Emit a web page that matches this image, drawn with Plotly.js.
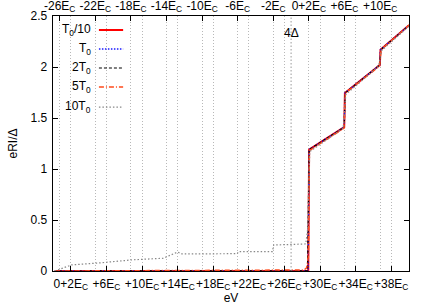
<!DOCTYPE html>
<html>
<head>
<meta charset="utf-8">
<script src="https://cdn.plot.ly/plotly-3.0.1.min.js"></script>
<style>html,body{margin:0;padding:0;background:#fff;}#chart{width:436px;height:305px;}</style>
</head>
<body>
<div id="chart"></div>
<script>
// ---- data (x in units of E_C on the bottom axis) ----
const seriesNames = ['T<sub>0</sub>/10', 'T<sub>0</sub>', '2T<sub>0</sub>', '5T<sub>0</sub>', '10T<sub>0</sub>'];

const xT10 = [0.2, 28.68, 28.78, 32.72, 32.8, 36.72, 36.8, 40];
const yT10 = [0, 0, 1.19, 1.41, 1.745, 2.02, 2.17, 2.41];

const xT1 = [0.2, 28.66, 28.78, 32.72, 32.8, 36.72, 36.8, 40];
const yT1 = [0, 0, 1.19, 1.41, 1.745, 2.02, 2.17, 2.41];

const xT2 = [0.2, 28.6, 28.78, 32.72, 32.82, 36.72, 36.82, 40];
const yT2 = [0, 0.002, 1.19, 1.41, 1.745, 2.02, 2.17, 2.41];

const xT5 = [0.2, 27.5, 28.2, 28.5, 28.7, 28.8, 32.7, 32.85, 36.7, 36.85, 40];
const yT5 = [0, 0.003, 0.01, 0.03, 0.15, 1.18, 1.40, 1.745, 2.01, 2.17, 2.41];

const xT10x = [0.2, 2.1, 5.3, 9.0, 12.4, 14.0, 14.5, 18.0, 20.7, 20.85, 24.65, 24.8, 28.4, 28.6, 28.85, 32.6, 32.9, 36.6, 36.9, 40];
const yT10x = [0.0, 0.06, 0.08, 0.11, 0.125, 0.186, 0.167, 0.17, 0.17, 0.19, 0.19, 0.255, 0.265, 0.4, 1.17, 1.40, 1.73, 2.01, 2.16, 2.40];

const fourDeltaTop = [0, 0];     // 4Δ line, on the top axis
const fourDeltaY = [0, 2.5];

const bottomTicks = [2, 6, 10, 14, 18, 22, 26, 30, 34, 38];
const bottomTickText = ['0+2E<sub>C</sub>', '+6E<sub>C</sub>', '+10E<sub>C</sub>', '+14E<sub>C</sub>', '+18E<sub>C</sub>',
  '+22E<sub>C</sub>', '+26E<sub>C</sub>', '+30E<sub>C</sub>', '+34E<sub>C</sub>', '+38E<sub>C</sub>'];
const topTicks = [-26, -22, -18, -14, -10, -6, -2, 2, 6, 10];
const topTickText = ['-26E<sub>C</sub>', '-22E<sub>C</sub>', '-18E<sub>C</sub>', '-14E<sub>C</sub>', '-10E<sub>C</sub>',
  '-6E<sub>C</sub>', '-2E<sub>C</sub>', '0+2E<sub>C</sub>', '+6E<sub>C</sub>', '+10E<sub>C</sub>'];
const yTicks = [0, 0.5, 1, 1.5, 2, 2.5];
const yTickText = ['0', '0.5', '1', '1.5', '2', '2.5'];

// ---- styles ----
const xRange = [0, 40];
const topOffset = 26.75;
const font = 'Liberation Sans, Arial, sans-serif';
const styles = [
  {color: '#ff0000', width: 2, dash: 'solid'},
  {color: '#1a1aff', width: 1.5, dash: '1.5px,1.5px'},
  {color: '#000000', width: 1.2, dash: '3px,2px'},
  {color: '#ff4a1a', width: 1.5, dash: '5px,2px,1px,2px'},
  {color: '#888888', width: 1.2, dash: '1.5px,2px'}
];
const xs = [xT10, xT1, xT2, xT5, xT10x];
const ys = [yT10, yT1, yT2, yT5, yT10x];

const traces = [];
traces.push({x: fourDeltaTop, y: fourDeltaY, xaxis: 'x2', type: 'scatter', mode: 'lines',
  line: {color: '#999999', width: 1, dash: '1.5px,2px'}, showlegend: false, hoverinfo: 'skip'});
[0, 1, 2, 3, 4].forEach(i => {
  traces.push({x: xs[i], y: ys[i], type: 'scatter', mode: 'lines', name: seriesNames[i],
    line: styles[i], showlegend: false, hoverinfo: 'skip'});
});

// legend drawn gnuplot-style: text, then line sample
const annotations = [];
const shapes = [];
const legY = [0.945, 0.871, 0.796, 0.722, 0.643];
seriesNames.forEach((n, i) => {
  annotations.push({xref: 'paper', yref: 'paper', x: 0.113, y: legY[i], xanchor: 'right', yanchor: 'middle',
    text: n, showarrow: false, font: {family: font, size: 12, color: '#000'}});
  shapes.push({type: 'line', xref: 'paper', yref: 'paper', x0: 0.129, x1: 0.197, y0: legY[i], y1: legY[i],
    line: styles[i]});
});
annotations.push({xref: 'x2', yref: 'paper', x: 0, y: 0.935, xanchor: 'center', yanchor: 'middle',
  text: '4Δ', showarrow: false, font: {family: font, size: 12, color: '#000'}});

const gridDash = '1px,2px';
const layout = {
  width: 436, height: 305,
  margin: {l: 53, r: 27, t: 16, b: 34},
  paper_bgcolor: '#fff', plot_bgcolor: '#fff',
  font: {family: font, size: 12, color: '#000'},
  showlegend: false,
  xaxis: {range: xRange, tickvals: bottomTicks, ticktext: bottomTickText, tickangle: 0, ticks: 'inside', ticklen: 5,
    tickcolor: '#000', showline: true, linecolor: '#000', linewidth: 1.3, mirror: false,
    showgrid: true, gridcolor: '#b8b8b8', griddash: gridDash, gridwidth: 1, zeroline: false,
    tickfont: {family: font, size: 12}, ticklabelstandoff: 1,
    title: {text: 'eV', font: {family: font, size: 12}, standoff: 2}},
  xaxis2: {range: [xRange[0] - topOffset, xRange[1] - topOffset], overlaying: 'x', side: 'top',
    tickvals: topTicks, ticktext: topTickText, tickangle: 0, ticks: 'inside', ticklen: 5, tickcolor: '#000',
    showline: true, linecolor: '#000', linewidth: 1.3,
    showgrid: true, gridcolor: '#b8b8b8', griddash: gridDash, gridwidth: 1, zeroline: false,
    tickfont: {family: font, size: 12}, ticklabelstandoff: 0},
  yaxis: {range: [0, 2.5], tickvals: yTicks, ticktext: yTickText, ticks: 'inside', ticklen: 5,
    tickcolor: '#000', showline: true, linecolor: '#000', linewidth: 1.3, mirror: 'ticks',
    showgrid: false, zeroline: false, tickfont: {family: font, size: 12}, ticklabelstandoff: 2,
    title: {text: 'eRI/Δ', font: {family: font, size: 12}, standoff: 10}},
  annotations: annotations,
  shapes: shapes
};

Plotly.newPlot('chart', traces, layout, {staticPlot: true, displayModeBar: false});
</script>
</body>
</html>
